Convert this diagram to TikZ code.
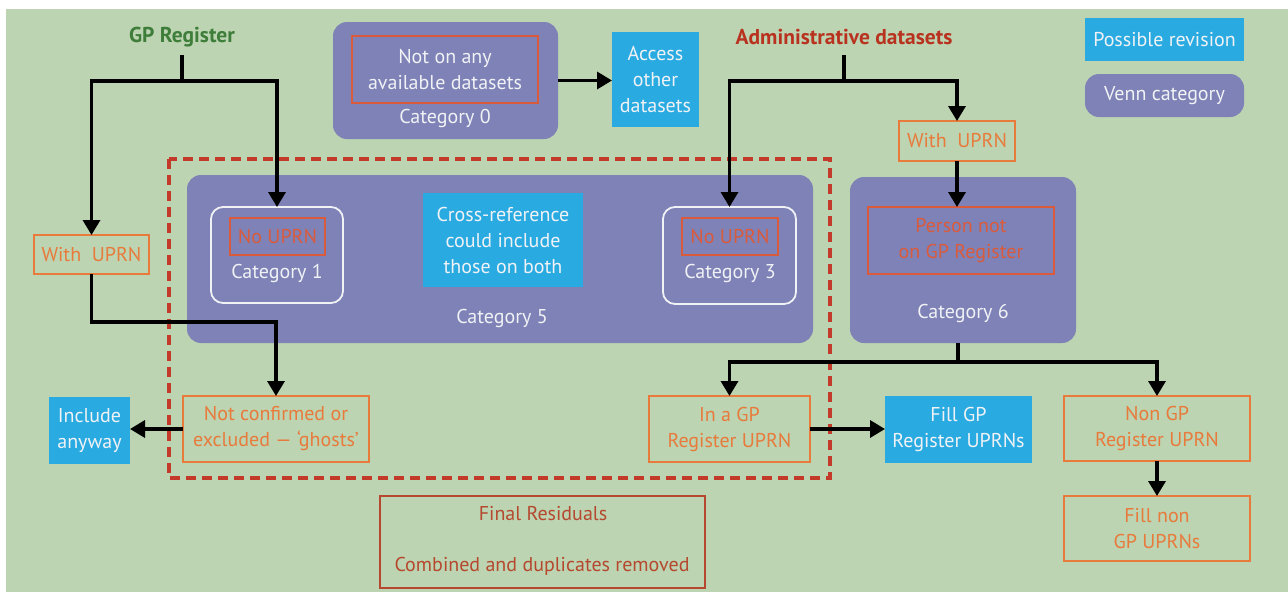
\documentclass[tikz,border=0pt]{standalone}
\usepackage{fontspec}
\setmainfont{PT Sans}
\usetikzlibrary{arrows.meta}
\definecolor{bg}{HTML}{BCD4B1}
\definecolor{venn}{HTML}{7E82B6}
\definecolor{rev}{HTML}{29ABE2}
\definecolor{orng}{HTML}{E87A3C}
\definecolor{redin}{HTML}{DA5A3C}
\definecolor{dashred}{HTML}{C33A2A}
\definecolor{gpgreen}{HTML}{3E7D3A}
\definecolor{admred}{HTML}{B8321F}
\definecolor{finred}{HTML}{B5482E}
\definecolor{wtxt}{HTML}{F0F2F5}
\tikzset{
  base/.style={inner sep=0pt, outer sep=0pt, align=center, font=\fontsize{20}{26}\selectfont},
  vennbox/.style={base, fill=venn, rounded corners=14pt, text=wtxt},
  revbox/.style={base, fill=rev, text=wtxt},
  orbox/.style={base, draw=orng, line width=2.2pt, text=orng},
  redbox/.style={base, draw=redin, line width=2.2pt},
  catbox/.style={base, draw=wtxt, line width=1.8pt, rounded corners=12pt},
  wlabel/.style={base, text=wtxt},
  conn/.style={line width=3.4pt, -{Triangle[length=15pt,width=17pt]}},
  plain/.style={line width=3.4pt},
  title/.style={base, font=\bfseries\fontsize{21.5}{26}\selectfont}
}
\begin{document}
\begin{tikzpicture}[x=1pt,y=-1pt]
\useasboundingbox (0,0) rectangle (1288,592);
\fill[white] (0,0) rectangle (1288,592);
\fill[bg] (6,9) rectangle (1288,592);

% titles
\node[title, text=gpgreen] (gp) at (182,37) {GP Register};
\node[title, text=admred] (admin) at (844,37) {Administrative datasets};

% category 0
\node[vennbox, minimum width=225pt, minimum height=117pt] (cat0) at (445.5,80.5) {};
\node[redbox, minimum width=186pt, minimum height=67pt, text=wtxt] (in0) at (445,69.5) {Not on any\\available datasets};
\node[wlabel] (lab0) at (445,118) {Category 0};
\node[revbox, minimum width=87pt, minimum height=95pt] (access) at (655.5,79.5) {Access\\other\\datasets};

% legend
\node[revbox, minimum width=159pt, minimum height=43pt] (legrev) at (1164.5,39.5) {Possible revision};
\node[vennbox, minimum width=159pt, minimum height=43pt] (legvenn) at (1164.5,95.5) {Venn category};

% dashed region
\draw[dashred, line width=3.2pt, dash pattern=on 10pt off 6pt] (169,159) rectangle (830,478);

% category 5
\node[vennbox, minimum width=626pt, minimum height=168pt] (cat5) at (500,259) {};
\node[wlabel] (lab5) at (502,318) {Category 5};
\node[catbox, minimum width=132pt, minimum height=96pt] (cat1) at (277,255) {};
\node[redbox, minimum width=95pt, minimum height=37pt, text=redin] (in1) at (277.5,236.5) {No UPRN};
\node[wlabel] (lab1) at (277,273) {Category 1};
\node[revbox, minimum width=160pt, minimum height=94pt] (cross) at (503,240) {Cross-reference\\could include\\those on both};
\node[catbox, minimum width=133pt, minimum height=97pt] (cat3) at (729.5,255.5) {};
\node[redbox, minimum width=96pt, minimum height=37pt, text=redin] (in3) at (730,236.5) {No UPRN};
\node[wlabel] (lab3) at (730,273) {Category 3};

% category 6
\node[orbox, minimum width=116pt, minimum height=40pt] (withR) at (957,141) {With\ \ UPRN};
\node[vennbox, minimum width=226pt, minimum height=166pt] (cat6) at (963,260) {};
\node[redbox, minimum width=186pt, minimum height=67pt, text=redin] (person) at (961,240.5) {Person not\\on GP Register};
\node[wlabel] (lab6) at (963,313) {Category 6};

% left side
\node[orbox, minimum width=115pt, minimum height=39pt] (withL) at (91.5,254.5) {With\ \ UPRN};
\node[orbox, minimum width=186pt, minimum height=66pt] (notconf) at (276,429) {Not confirmed or\\excluded --- ‘ghosts’};
\node[revbox, minimum width=81pt, minimum height=67pt] (include) at (89.5,430.5) {Include\\anyway};

% bottom
\node[orbox, minimum width=161pt, minimum height=66pt] (ingp) at (729.5,429) {In a GP\\Register UPRN};
\node[revbox, minimum width=147pt, minimum height=67pt] (fillgp) at (958.5,429.5) {Fill GP\\Register UPRNs};
\node[orbox, minimum width=186pt, minimum height=65pt] (nongp) at (1157,428.5) {Non GP\\Register UPRN};
\node[orbox, minimum width=186pt, minimum height=65pt] (fillnon) at (1157,528.5) {Fill non\\GP UPRNs};
\node[base, draw=finred, line width=2.2pt, minimum width=325pt, minimum height=92pt] (final) at (542.5,542) {};
\node[base, text=finred] (fin1) at (543,514) {Final Residuals};
\node[base, text=finred] (fin2) at (542,566) {Combined and duplicates removed};

% connectors
\coordinate (j1) at (182,81);
\coordinate (j2) at (844,81);
\coordinate (j3) at (958,362);
\coordinate (b1) at (91.5,322);
\draw[plain] (182,55) -- (j1);
\draw[conn] (j1) -| (withL.north);
\draw[conn] (j1) -| (cat1.north);
\draw[plain] (844,55) -- (j2);
\draw[conn] (j2) -| (cat3.north);
\draw[conn] (j2) -| (withR.north);
\draw[conn] (withR.south) -- (withR.south |- person.north);
\draw[conn] (cat0.east) -- (cat0.east -| access.west);
\draw[conn] (withL.south) -- (b1) -| (notconf.north);
\draw[conn] (notconf.west) -- (notconf.west -| include.east);
\draw[plain] (j3 |- cat6.south) -- (j3);
\draw[conn] (j3) -| (ingp.north);
\draw[conn] (j3) -| (nongp.north);
\draw[conn] (ingp.east) -- (ingp.east -| fillgp.west);
\draw[conn] (nongp.south) -- (fillnon.north);
\end{tikzpicture}
\end{document}
